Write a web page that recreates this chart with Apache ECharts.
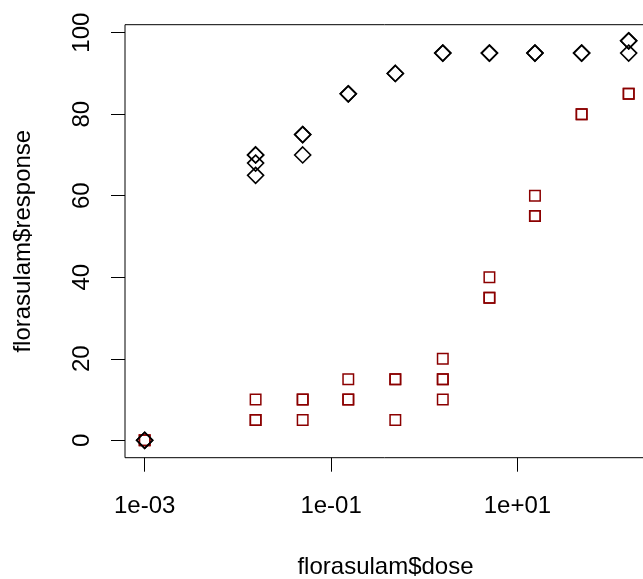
<!DOCTYPE html>
<html>
<head>
<meta charset="utf-8">
<script src="https://cdn.jsdelivr.net/npm/echarts@6/dist/echarts.min.js"></script>
<style>
  html, body { margin: 0; padding: 0; background: #fff; }
  #chart { width: 643px; height: 579px; }
</style>
</head>
<body>
<div id="chart"></div>
<script>
// Dose levels (the untreated control is placed at 1e-03 on the log axis)
const doses = [0.001, 0.0155, 0.0496, 0.153, 0.489, 1.58, 5.0, 15.4, 48.8, 156];

// Replicate responses at each dose level
const responseA = [
  [0, 0], [70, 70, 68, 65], [75, 75, 70], [85, 85], [90, 90],
  [95, 95], [95, 95], [95, 95], [95, 95], [98, 98, 95]
];
const responseB = [
  [0, 0], [10, 5, 5], [10, 10, 5], [15, 10, 10], [15, 15, 5],
  [20, 15, 15, 10], [40, 35, 35], [60, 55, 55], [80, 80], [85, 85]
];

// Axis tick positions
const xTicks = [0.001, 0.1, 10];
const yTicks = [0, 20, 40, 60, 80, 100];

function toPoints(responses) {
  const pts = [];
  responses.forEach((reps, i) => reps.forEach(r => pts.push([doses[i], r])));
  return pts;
}

function rExp(v) {
  const e = Math.round(Math.log10(v));
  return '1e' + (e < 0 ? '-' : '+') + String(Math.abs(e)).padStart(2, '0');
}

const FONT = "'Liberation Sans', Arial, Helvetica, sans-serif";

const chart = echarts.init(document.getElementById('chart'), null, { renderer: 'canvas' });
chart.setOption({
  animation: false,
  backgroundColor: '#fff',
  grid: {
    left: 125, top: 24.7, width: 521, height: 433,
    show: true, borderColor: '#000', borderWidth: 1,
    containLabel: false, outerBoundsMode: 'none'
  },
  xAxis: {
    type: 'log',
    logBase: 10,
    min: Math.pow(10, -3.211),
    max: Math.pow(10, 2.379),
    name: 'florasulam$dose',
    nameLocation: 'middle',
    nameGap: 98,
    nameTextStyle: { color: '#000', fontSize: 24, fontFamily: FONT },
    axisLine: { show: false, onZero: false },
    splitLine: { show: false },
    minorTick: { show: false },
    axisTick: { show: true, length: 14, inside: false, customValues: xTicks,
      lineStyle: { color: '#000', width: 1 } },
    axisLabel: { show: true, margin: 37, customValues: xTicks, color: '#000',
      fontSize: 24, fontFamily: FONT, formatter: rExp }
  },
  yAxis: {
    type: 'value',
    min: -4.27,
    max: 101.96,
    name: 'florasulam$response',
    nameLocation: 'middle',
    nameRotate: 90,
    nameGap: 90,
    nameTextStyle: { color: '#000', fontSize: 24, fontFamily: FONT },
    axisLine: { show: false, onZero: false },
    splitLine: { show: false },
    axisTick: { show: true, length: 14, inside: false, customValues: yTicks,
      lineStyle: { color: '#000', width: 1 } },
    axisLabel: { show: true, rotate: 90, margin: 31, customValues: yTicks, color: '#000',
      fontSize: 24, fontFamily: FONT }
  },
  series: [
    {
      name: 'group B',
      type: 'scatter',
      symbol: 'rect',
      symbolSize: 10.5,
      silent: true,
      itemStyle: { color: 'rgba(0,0,0,0)', borderColor: '#8b0000', borderWidth: 1.5, opacity: 1 },
      data: toPoints(responseB)
    },
    {
      name: 'group A',
      type: 'scatter',
      symbol: 'diamond',
      symbolSize: 16,
      silent: true,
      itemStyle: { color: 'rgba(0,0,0,0)', borderColor: '#000', borderWidth: 1.6, opacity: 1 },
      data: toPoints(responseA)
    }
  ]
});
</script>
</body>
</html>
